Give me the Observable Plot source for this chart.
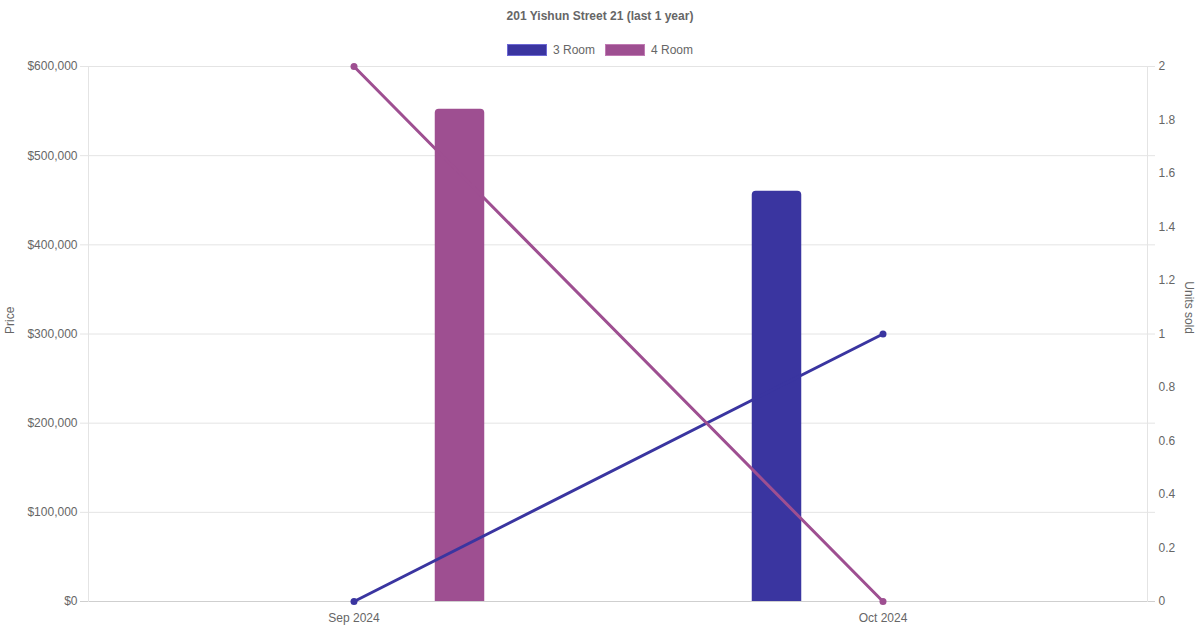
<!DOCTYPE html>
<html>
<head>
<meta charset="utf-8">
<script src="https://cdn.jsdelivr.net/npm/d3@7"></script>
<script src="https://cdn.jsdelivr.net/npm/@observablehq/plot@0.6"></script>
<style>
  body { margin: 0; background: #fff; font-family: "Liberation Sans", Arial, sans-serif; color: #666; }
  #wrap { width: 1200px; height: 630px; position: relative; }
  #title { height: 32px; line-height: 32px; text-align: center; font-size: 12px; font-weight: bold; color: #666; }
  #legend { height: 26px; display: flex; justify-content: center; align-items: center; font-size: 12px; color: #666; gap: 10px; padding-top: 10px; box-sizing: border-box; }
  .item { display: flex; align-items: center; gap: 6px; }
  .swatch { width: 40px; height: 12px; box-sizing: border-box; }
</style>
</head>
<body>
<div id="wrap">
  <div id="title">201 Yishun Street 21 (last 1 year)</div>
  <div id="legend"></div>
  <div id="chart"></div>
</div>
<script>
// categories
var months = ["Sep 2024", "Oct 2024"];

// median price per month (null = no sale)
var price3Room = [null, 460000];
var price4Room = [552000, null];

// units sold per month
var units3Room = [0, 1];
var units4Room = [2, 0];

// axis ticks
var priceTicks = [0, 100000, 200000, 300000, 400000, 500000, 600000];
var unitTicks = [0, 0.2, 0.4, 0.6, 0.8, 1, 1.2, 1.4, 1.6, 1.8, 2];

var colors = { "3 Room": "#3a35a0", "4 Room": "#9e4f91" };
var borders = { "3 Room": "#6d68d4", "4 Room": "#c07ab3" };

// units are drawn on the price scale: 2 units == $600,000
var unitFactor = 600000 / 2;

// legend
var legend = document.getElementById("legend");
Object.keys(colors).forEach(function(k) {
  var item = document.createElement("div");
  item.className = "item";
  item.innerHTML = '<span class="swatch" style="background:' + colors[k] + ';border:1px solid ' + borders[k] + '"></span><span>' + k + '</span>';
  legend.appendChild(item);
});

var bars = [];
var lines = [];
months.forEach(function(m, i) {
  if (price3Room[i] != null) bars.push({ month: m, type: "3 Room", price: price3Room[i] });
  if (price4Room[i] != null) bars.push({ month: m, type: "4 Room", price: price4Room[i] });
  lines.push({ month: m, type: "3 Room", units: units3Room[i] });
  lines.push({ month: m, type: "4 Room", units: units4Room[i] });
});

var W = 1200, H = 572;
var mL = 88, mR = 53, mT = 8, mB = 29;
var band = (W - mL - mR) / months.length;
var barW = 50, offset = 106;
// insets to place a 50px bar left or right of the band centre
var insetNear = band / 2 - offset - barW / 2;
var insetFar = band - insetNear - barW;

function barMarks(type, left, right) {
  var d = bars.filter(function(b) { return b.type === type; });
  // rounded top corners only
  return Plot.barY(d, { x: "month", y: "price", fill: colors[type], insetLeft: left, insetRight: right, ry1: 4 });
}

function lineMarks(type) {
  var d = lines.filter(function(l) { return l.type === type; });
  var yv = function(l) { return l.units * unitFactor; };
  return [
    Plot.line(d, { x: "month", y: yv, stroke: colors[type], strokeWidth: 3 }),
    Plot.dot(d, { x: "month", y: yv, fill: colors[type], r: 3.5 })
  ];
}

var chart = Plot.plot({
  width: W,
  height: H,
  marginLeft: mL,
  marginRight: mR,
  marginTop: mT,
  marginBottom: mB,
  style: { fontFamily: "'Liberation Sans', Arial, sans-serif", fontSize: "12px", color: "#666", background: "#fff" },
  x: { type: "band", domain: months, padding: 0, axis: null },
  y: { domain: [0, 600000], axis: null },
  marks: [
    Plot.ruleY(priceTicks, { stroke: "#e4e4e4", insetLeft: -8, insetRight: -8 }),
    Plot.ruleY([0], { stroke: "#cfcfcf", insetLeft: -8, insetRight: -8 }),
    Plot.frame({ stroke: "#e4e4e4", anchor: "left" }),
    Plot.frame({ stroke: "#e4e4e4", anchor: "right" }),
    Plot.axisY({ ticks: priceTicks, tickSize: 0, tickPadding: 11, tickFormat: function(d) { return "$" + d3.format(",")(d); }, label: null, fill: "#666" }),
    Plot.axisY({ anchor: "right", ticks: unitTicks.map(function(u) { return u * unitFactor; }), tickSize: 0, tickPadding: 11,
      tickFormat: function(d) { return String(+(d / unitFactor).toFixed(1)); }, label: null, fill: "#666" }),
    Plot.axisX({ tickSize: 0, tickPadding: 12, label: null, fill: "#666" }),
    Plot.text(["Price"], { frameAnchor: "left", rotate: -90, dx: -78, fill: "#666", fontSize: 12 }),
    Plot.text(["Units sold"], { frameAnchor: "right", rotate: 90, dx: 41, fill: "#666", fontSize: 12 }),
    barMarks("4 Room", insetFar, insetNear),
    barMarks("3 Room", insetNear, insetFar),
    lineMarks("3 Room"),
    lineMarks("4 Room")
  ]
});

document.getElementById("chart").appendChild(chart);
</script>
</body>
</html>
